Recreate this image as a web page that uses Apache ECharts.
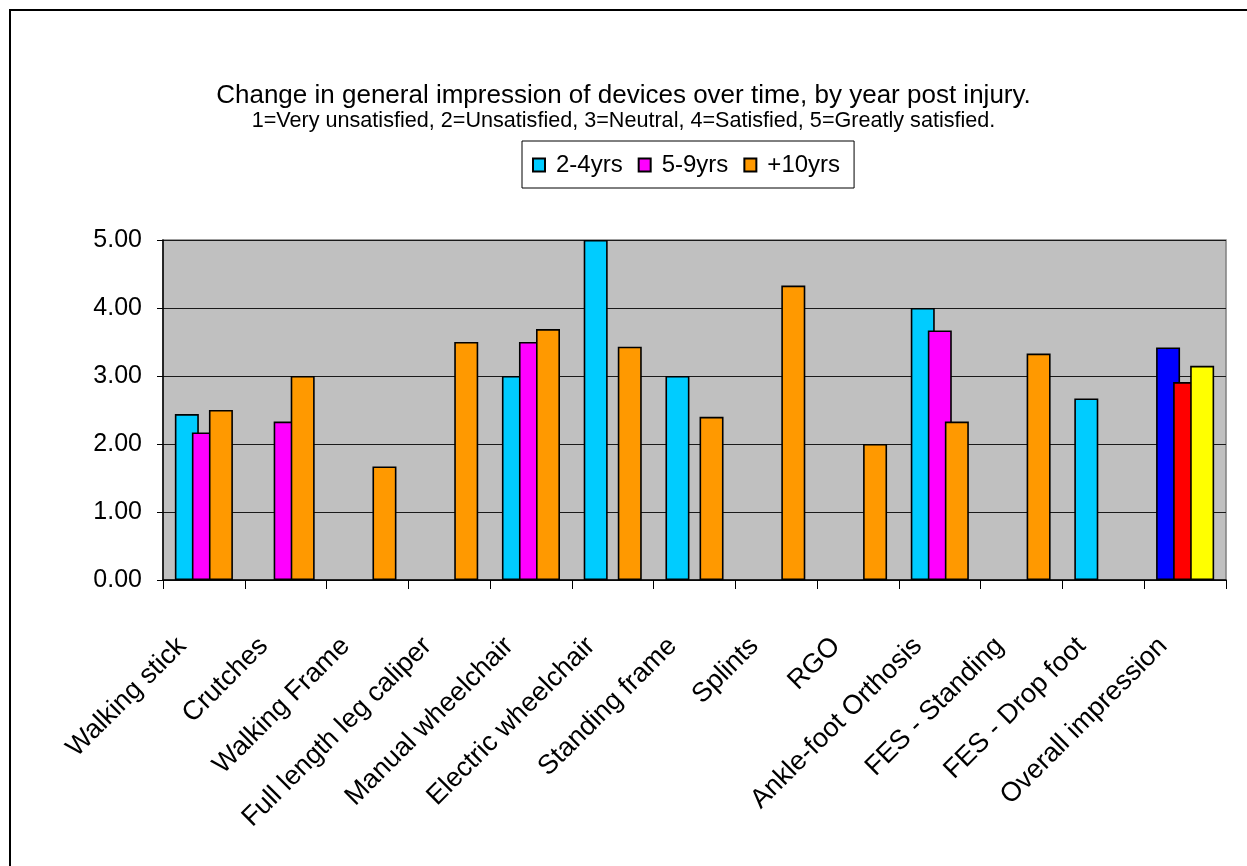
<!DOCTYPE html>
<html>
<head>
<meta charset="utf-8">
<script src="https://cdn.jsdelivr.net/npm/echarts@6/dist/echarts.min.js"></script>
<style>
  html, body { margin: 0; padding: 0; background: #fff; }
  #chart { width: 1247px; height: 866px; }
</style>
</head>
<body>
<div id="chart"></div>
<script>
// Devices rated on a 1-5 satisfaction scale, grouped by years since injury
const categories = [
  'Walking stick', 'Crutches', 'Walking Frame', 'Full length leg caliper',
  'Manual wheelchair', 'Electric wheelchair', 'Standing frame', 'Splints',
  'RGO', 'Ankle-foot Orthosis', 'FES - Standing', 'FES - Drop foot',
  'Overall impression'
];
const seriesNames = ['2-4yrs', '5-9yrs', '+10yrs'];
const yrs2to4  = [2.44, null, null, null, 3.00, 5.00, 3.00, null, null, 4.00, null, 2.67, 3.42];
const yrs5to9  = [2.17, 2.33, null, null, 3.50, null, null, null, null, 3.67, null, null, 2.91];
const yrs10plus = [2.50, 3.00, 1.67, 3.50, 3.69, 3.43, 2.40, 4.33, 2.00, 2.33, 3.33, null, 3.15];
const yTicks = [0, 1, 2, 3, 4, 5];

const FONT = '"Liberation Sans", Arial, Helvetica, sans-serif';
const seriesColors = ['#00CCFF', '#FF00FF', '#FF9900'];
// the "Overall impression" group uses its own colours
const overallColors = ['#0000FF', '#FF0000', '#FFFF00'];
const overallIndex = categories.indexOf('Overall impression');

function buildData(values, s) {
  return values.map((v, i) => {
    if (i === overallIndex && v != null) {
      return { value: v, itemStyle: { color: overallColors[s] } };
    }
    return v;
  });
}

const allValues = [yrs2to4, yrs5to9, yrs10plus];

const chart = echarts.init(document.getElementById('chart'), null, { renderer: 'canvas' });

chart.setOption({
  animation: false,
  backgroundColor: '#ffffff',
  textStyle: { fontFamily: FONT, color: '#000' },
  graphic: [{
    type: 'rect',
    shape: { x: 10, y: 10, width: 1300, height: 900 },
    style: { fill: 'none', stroke: '#000', lineWidth: 2 },
    z: 100
  }],
  title: [{
    text: 'Change in general impression of devices over time, by year post injury.',
    left: 'center',
    top: 78,
    textStyle: { fontFamily: FONT, fontSize: 26, fontWeight: 'normal', color: '#000' }
  }, {
    text: '1=Very unsatisfied, 2=Unsatisfied, 3=Neutral, 4=Satisfied, 5=Greatly satisfied.',
    left: 'center',
    top: 105,
    textStyle: { fontFamily: FONT, fontSize: 21.6, fontWeight: 'normal', color: '#000' }
  }],
  legend: {
    data: seriesNames,
    left: 522,
    top: 141,
    orient: 'horizontal',
    icon: 'rect',
    itemWidth: 12,
    itemHeight: 13,
    itemGap: 15,
    padding: [12, 14, 11, 10],
    borderColor: '#000',
    borderWidth: 1,
    backgroundColor: '#fff',
    textStyle: { fontFamily: FONT, fontSize: 24, color: '#000', padding: [0, 0, 0, 6] }
  },
  grid: {
    left: 163,
    right: 21,
    top: 240,
    bottom: 286,
    show: true,
    backgroundColor: '#C0C0C0',
    borderColor: '#808080',
    borderWidth: 1.5
  },
  xAxis: {
    type: 'category',
    data: categories,
    boundaryGap: true,
    axisLine: { lineStyle: { color: '#000', width: 1.5 } },
    axisTick: { show: true, alignWithLabel: false, length: 9, lineStyle: { color: '#000', width: 1 } },
    axisLabel: {
      interval: 0,
      rotate: 45,
      margin: 40,
      padding: [0, 31, 0, 0],
      fontFamily: FONT,
      fontSize: 27,
      color: '#000'
    },
    splitLine: { show: false }
  },
  yAxis: {
    type: 'value',
    min: yTicks[0],
    max: yTicks[yTicks.length - 1],
    interval: 1,
    axisLine: { show: true, lineStyle: { color: '#000', width: 1.5 } },
    axisTick: { show: true, length: 6, lineStyle: { color: '#000', width: 1 } },
    axisLabel: {
      margin: 21,
      fontFamily: FONT,
      fontSize: 25,
      color: '#000',
      formatter: v => v.toFixed(2)
    },
    splitLine: { show: true, lineStyle: { color: '#1a1a1a', width: 1.2 } }
  },
  series: allValues.map((vals, s) => ({
    name: seriesNames[s],
    type: 'bar',
    data: buildData(vals, s),
    barWidth: 24,
    barGap: '-29%',
    itemStyle: { color: seriesColors[s], borderColor: '#000', borderWidth: 1.6 },
    emphasis: { disabled: true }
  }))
});
</script>
</body>
</html>
